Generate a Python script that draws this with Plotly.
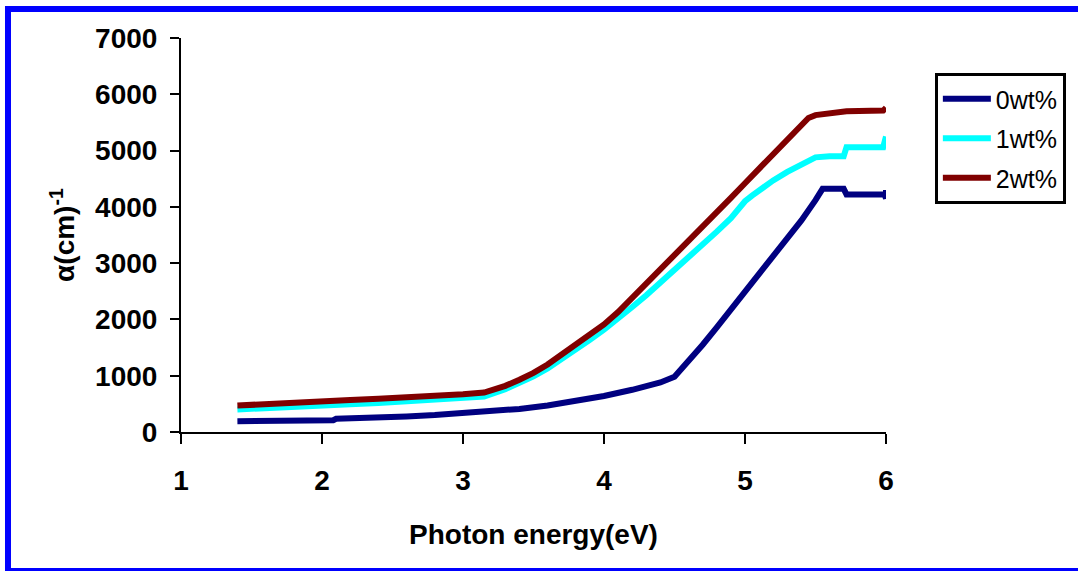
import plotly.graph_objects as go

# Photon energy (eV) and absorption coefficient alpha (cm^-1)
energy_0 = [1.4, 1.6, 1.8, 2.0, 2.08, 2.1, 2.3, 2.5, 2.6, 2.8, 3.0, 3.2, 3.4, 3.6, 3.8, 4.0,
            4.2, 4.4, 4.5, 4.6, 4.7, 4.8, 4.9, 5.0, 5.1, 5.2, 5.3, 5.4, 5.5, 5.55, 5.7,
            5.72, 5.98, 5.99, 6.0, 6.0]
alpha_0 = [190, 195, 200, 205, 210, 235, 245, 260, 275, 300, 330, 365, 410, 470, 550, 640,
           750, 880, 980, 1250, 1550, 1860, 2170, 2480, 2800, 3120, 3440, 3760, 4120, 4320, 4320,
           4220, 4220, 4220, 4150, 4300]

energy_1 = [1.4, 1.6, 1.8, 2.0, 2.2, 2.4, 2.6, 2.8, 3.0, 3.15, 3.3, 3.4, 3.5, 3.6, 3.7, 3.8,
            3.9, 4.0, 4.1, 4.2, 4.3, 4.4, 4.5, 4.6, 4.7, 4.8, 4.9, 5.0, 5.05, 5.1, 5.2, 5.3,
            5.4, 5.5, 5.6, 5.7, 5.72, 5.98, 6.0]
alpha_1 = [400, 430, 455, 475, 495, 515, 540, 570, 600, 630, 760, 870, 990, 1130, 1290, 1460,
           1640, 1820, 2010, 2220, 2430, 2650, 2870, 3090, 3320, 3560, 3800, 4100, 4200, 4300, 4470, 4620,
           4760, 4880, 4900, 4900, 5060, 5060, 5250]

energy_2 = [1.4, 1.6, 1.8, 2.0, 2.2, 2.4, 2.6, 2.8, 3.0, 3.15, 3.3, 3.4, 3.5, 3.6, 3.7, 3.8,
            3.9, 4.0, 4.1, 4.2, 4.3, 4.4, 4.5, 4.6, 4.7, 4.8, 4.9, 5.0, 5.1, 5.2, 5.3, 5.4,
            5.45, 5.5, 5.6, 5.7, 5.72, 5.98, 6.0]
alpha_2 = [470, 500, 530, 550, 570, 590, 610, 640, 670, 700, 820, 930, 1050, 1200, 1370, 1540,
           1720, 1910, 2130, 2380, 2630, 2880, 3130, 3390, 3650, 3900, 4160, 4420, 4680, 4940, 5190, 5440,
           5580, 5630, 5650, 5670, 5700, 5710, 5760]

series_names = ["0wt%", "1wt%", "2wt%"]
series_colors = ["#000080", "#00FFFF", "#800000"]

x_ticks = [1, 2, 3, 4, 5, 6]
y_ticks = [0, 1000, 2000, 3000, 4000, 5000, 6000, 7000]

FONT = "Liberation Sans, Arial, sans-serif"

fig = go.Figure()
for name, xs, ys, col in zip(series_names, [energy_0, energy_1, energy_2],
                             [alpha_0, alpha_1, alpha_2], series_colors):
    fig.add_trace(go.Scatter(x=xs, y=ys, mode="lines", name=name, legendgroup=name,
                             line=dict(color=col, width=6)))

W, H = 1078, 571
L, R, T, B = 181, 888, 38, 432
pw, ph = R - L, B - T


def px(xp):
    return (xp - L) / pw


def py(yp):
    return (B - yp) / ph


fig.update_layout(
    width=W, height=H,
    margin=dict(l=L, r=W - R, t=T, b=H - B, pad=0),
    paper_bgcolor="white", plot_bgcolor="white",
    font=dict(family=FONT, color="black"),
    showlegend=True,
    legend=dict(x=px(937), y=py(73), xanchor="left", yanchor="top",
                bordercolor="black", borderwidth=3, bgcolor="white",
                font=dict(size=25, family=FONT, color="black"),
                tracegroupgap=4, itemwidth=48),
    xaxis=dict(range=[1, 6], tickvals=x_ticks, showgrid=False, zeroline=False,
               showline=True, linecolor="black", linewidth=2,
               ticks="outside", ticklen=10, tickwidth=2, tickcolor="black",
               tickfont=dict(size=28, family=FONT, color="black", weight="bold"),
               ticklabelstandoff=12,
               title=dict(text="<b>Photon energy(eV)</b>", standoff=30,
                          font=dict(size=28, family=FONT, color="black"))),
    yaxis=dict(range=[0, 7000], tickvals=y_ticks, showgrid=False, zeroline=False,
               showline=True, linecolor="black", linewidth=2,
               ticks="outside", ticklen=9, tickwidth=2, tickcolor="black",
               tickfont=dict(size=28, family=FONT, color="black", weight="bold"),
               ticklabelstandoff=7,
               title=dict(text="<b>α(cm)<sup>-1</sup></b>", standoff=12,
                          font=dict(size=28, family=FONT, color="black"))),
    shapes=[dict(type="rect", xref="paper", yref="paper",
                 x0=px(7.5), x1=px(1085), y0=py(571), y1=py(9),
                 line=dict(color="#0000FF", width=6), layer="below")],
)

fig.write_html("out.html")
